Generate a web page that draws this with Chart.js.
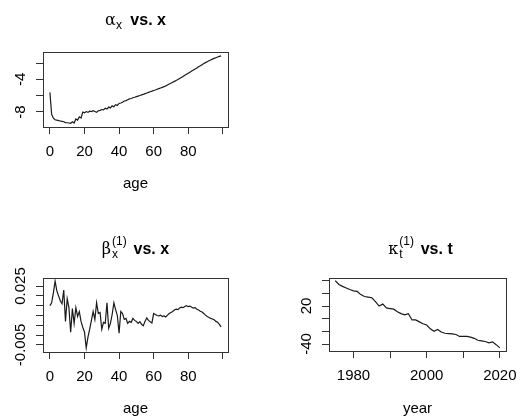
<!DOCTYPE html>
<html>
<head>
<meta charset="utf-8">
<script src="https://cdn.jsdelivr.net/npm/chart.js@4.4.1/dist/chart.umd.min.js"></script>
<style>
  body { margin: 0; background: #fff; }
  #wrap { position: relative; width: 526px; height: 418px; overflow: hidden;
          font-family: "Liberation Sans", Arial, sans-serif; color: #000; }
  canvas { position: absolute; }
  .ttl { position: absolute; text-align: center; white-space: nowrap; font-size: 16px; line-height: 1; }
  .ttl b { font-weight: bold; }
  .gk { font-family: "DejaVu Serif", "Liberation Serif", serif; font-size: 16px; }
  .sb { font-size: 12px; position: relative; top: 4px; margin-right: 4px; }
  .ss { display: inline-block; position: relative; width: 18px; height: 0; }
  .ss span { position: absolute; left: 1px; font-size: 12px; line-height: 1; }
  .ss .up { bottom: 7px; }
  .ss .dn { bottom: -6px; }
</style>
</head>
<body>
<div id="wrap">
  <canvas id="c1" width="263" height="209" style="left:0;top:0"></canvas>
  <canvas id="c2" width="263" height="209" style="left:0;top:209px"></canvas>
  <canvas id="c3" width="263" height="209" style="left:263px;top:209px"></canvas>

  <div class="ttl" style="left:43px;width:185px;top:12px">
    <span class="gk">α</span><span class="sb">x</span> <b>vs. x</b>
  </div>
  <div class="ttl" style="left:43px;width:185px;top:241px">
    <span class="gk">β</span><span class="ss"><span class="up">(1)</span><span class="dn">x</span></span> <b>vs. x</b>
  </div>
  <div class="ttl" style="left:329px;width:183px;top:241px">
    <span class="gk">κ</span><span class="ss"><span class="up">(1)</span><span class="dn">t</span></span> <b>vs. t</b>
  </div>
</div>

<script>
// ages 0..99
const ages = [0,1,2,3,4,5,6,7,8,9,10,11,12,13,14,15,16,17,18,19,
  20,21,22,23,24,25,26,27,28,29,30,31,32,33,34,35,36,37,38,39,
  40,41,42,43,44,45,46,47,48,49,50,51,52,53,54,55,56,57,58,59,
  60,61,62,63,64,65,66,67,68,69,70,71,72,73,74,75,76,77,78,79,
  80,81,82,83,84,85,86,87,88,89,90,91,92,93,94,95,96,97,98,99];

const alphaX = [-5.6,-8.3,-8.75,-8.95,-9.0,-9.05,-9.1,-9.15,-9.2,-9.3,
  -9.32,-9.35,-9.38,-9.2,-9.35,-8.85,-9.0,-8.6,-8.75,-8.0,
  -8.1,-7.95,-8.05,-7.9,-7.95,-7.85,-7.95,-8.05,-7.85,-7.8,
  -7.7,-7.75,-7.55,-7.65,-7.4,-7.5,-7.25,-7.35,-7.1,-7.2,
  -6.95,-6.9,-6.8,-6.65,-6.6,-6.5,-6.4,-6.35,-6.25,-6.2,
  -6.12,-6.05,-5.98,-5.9,-5.85,-5.75,-5.68,-5.6,-5.52,-5.45,
  -5.37,-5.3,-5.22,-5.14,-5.06,-4.98,-4.9,-4.8,-4.69,-4.58,
  -4.47,-4.36,-4.25,-4.14,-4.03,-3.9,-3.77,-3.64,-3.51,-3.38,
  -3.25,-3.12,-2.99,-2.86,-2.73,-2.6,-2.47,-2.34,-2.2,-2.07,
  -1.95,-1.84,-1.73,-1.62,-1.52,-1.43,-1.35,-1.27,-1.19,-1.12];

const betaX = [0.0150,0.0165,0.0215,0.0275,0.0225,0.0200,0.0175,0.0160,0.0230,0.0070,
  0.0185,0.0140,0.0015,0.0135,0.0060,0.0140,0.0095,0.0120,0.0070,0.0040,
  0.0015,-0.0065,-0.0010,0.0030,0.0075,0.0120,0.0080,0.0165,0.0110,0.0115,
  0.0030,0.0065,0.0060,0.0165,0.0035,0.0060,0.0105,0.0165,0.0130,0.0100,
  0.0010,0.0120,0.0110,0.0080,0.0085,0.0060,0.0070,0.0065,0.0085,0.0075,
  0.0070,0.0060,0.0068,0.0055,0.0048,0.0070,0.0088,0.0075,0.0068,0.0062,
  0.0110,0.0105,0.0100,0.0098,0.0102,0.0095,0.0098,0.0092,0.0102,0.0110,
  0.0115,0.0120,0.0128,0.0132,0.0130,0.0138,0.0142,0.0140,0.0146,0.0150,
  0.0145,0.0148,0.0142,0.0138,0.0140,0.0132,0.0128,0.0122,0.0118,0.0110,
  0.0102,0.0095,0.0090,0.0085,0.0082,0.0078,0.0070,0.0066,0.0055,0.0042];

const years = [1975,1976,1977,1978,1979,1980,1981,1982,1983,1984,
  1985,1986,1987,1988,1989,1990,1991,1992,1993,1994,
  1995,1996,1997,1998,1999,2000,2001,2002,2003,2004,
  2005,2006,2007,2008,2009,2010,2011,2012,2013,2014,
  2015,2016,2017,2018,2019,2020];

const kappaT = [60,54,51,48.5,46,44,43,38,35,34,
  33,27,20,23,17,16,15,11,8,6,
  8,-2,-2,-5,-8,-10,-16,-20,-17,-21,
  -23,-23.5,-24,-25,-28,-28,-28,-29,-31,-34,
  -35,-36,-38,-36.5,-41,-46];

// tick positions and the labels R kept
const ageTicks = [0, 20, 40, 60, 80, 100];
const ageTickLabels = ['0', '20', '40', '60', '80', ''];
const yearTicks = [1980, 1990, 2000, 2010, 2020];
const yearTickLabels = ['1980', '', '2000', '', '2020'];
const alphaTicks = [-8, -6, -4, -2];
const alphaTickLabels = ['-8', '', '-4', ''];
const betaTicks = [-0.005, 0, 0.005, 0.010, 0.015, 0.020, 0.025];
const betaTickLabels = ['-0.005', '', '', '', '', '', '0.025'];
const kappaTicks = [-40, -20, 0, 20, 40, 60];
const kappaTickLabels = ['-40', '', '', '20', '', ''];

const FONT = '"Liberation Sans", Arial, sans-serif';
const INK = '#1a1a1a';

// box around the plot region + rotated y labels, like base R
const rFrame = {
  id: 'rFrame',
  afterDraw(chart, args, opts) {
    const { ctx, chartArea: a } = chart;
    const y = chart.scales.y;
    ctx.save();
    ctx.strokeStyle = '#333';
    ctx.lineWidth = 1;
    ctx.strokeRect(Math.round(a.left) + 0.5, Math.round(a.top) + 0.5,
      Math.round(a.right - a.left), Math.round(a.bottom - a.top));
    ctx.fillStyle = '#000';
    ctx.font = '15px ' + FONT;
    ctx.textAlign = 'center';
    ctx.textBaseline = 'middle';
    y.ticks.forEach((t, i) => {
      const txt = opts.labels[i];
      if (!txt) return;
      ctx.save();
      ctx.translate(a.left - 22, y.getPixelForValue(t.value));
      ctx.rotate(-Math.PI / 2);
      ctx.fillText(txt, 0, 0);
      ctx.restore();
    });
    ctx.restore();
  }
};

function panel(id, xs, ys, o) {
  const pts = xs.map((x, i) => ({ x: x, y: ys[i] }));
  new Chart(document.getElementById(id).getContext('2d'), {
    type: 'line',
    data: { datasets: [{ data: pts, borderColor: INK, borderWidth: 1.2, pointRadius: 0, tension: 0 }] },
    plugins: [rFrame],
    options: {
      responsive: false,
      animation: false,
      events: [],
      layout: { autoPadding: false, padding: o.pad },
      plugins: { legend: { display: false }, tooltip: { enabled: false }, rFrame: { labels: o.yLabels } },
      scales: {
        x: {
          type: 'linear', min: o.xMin, max: o.xMax,
          afterBuildTicks: s => { s.ticks = o.xTicks.map(v => ({ value: v })); },
          afterFit: s => { s.height = o.xH; },
          grid: { drawOnChartArea: false, tickLength: 7, color: '#333' },
          border: { display: false },
          ticks: { autoSkip: false, maxRotation: 0, padding: 9, color: '#000', font: { family: FONT, size: 15 },
                   callback: (v, i) => o.xLabels[i] },
          title: { display: true, text: o.xTitle, color: '#000', font: { family: FONT, size: 15 },
                   padding: { top: 0, bottom: o.titleGap } }
        },
        y: {
          type: 'linear', min: o.yMin, max: o.yMax,
          afterBuildTicks: s => { s.ticks = o.yTicks.map(v => ({ value: v })); },
          afterFit: s => { s.width = o.yW; },
          grid: { drawOnChartArea: false, tickLength: 7, color: '#333' },
          border: { display: false },
          ticks: { display: false }
        }
      }
    }
  });
}

panel('c1', ages, alphaX, {
  pad: { left: 0, right: 35, top: 52, bottom: 0 }, xH: 82, yW: 43, titleGap: 16,
  xMin: -4, xMax: 103, yMin: -9.84, yMax: -0.65,
  xTicks: ageTicks, xLabels: ageTickLabels, yTicks: alphaTicks, yLabels: alphaTickLabels, xTitle: 'age'
});
panel('c2', ages, betaX, {
  pad: { left: 0, right: 35, top: 69, bottom: 0 }, xH: 66, yW: 43, titleGap: 0,
  xMin: -4, xMax: 103, yMin: -0.0086, yMax: 0.0291,
  xTicks: ageTicks, xLabels: ageTickLabels, yTicks: betaTicks, yLabels: betaTickLabels, xTitle: 'age'
});
panel('c3', years, kappaT, {
  pad: { left: 0, right: 14, top: 69, bottom: 0 }, xH: 67, yW: 66, titleGap: 0,
  xMin: 1973.3, xMax: 2021.7, yMin: -51, yMax: 64.2,
  xTicks: yearTicks, xLabels: yearTickLabels, yTicks: kappaTicks, yLabels: kappaTickLabels, xTitle: 'year'
});
</script>
</body>
</html>
